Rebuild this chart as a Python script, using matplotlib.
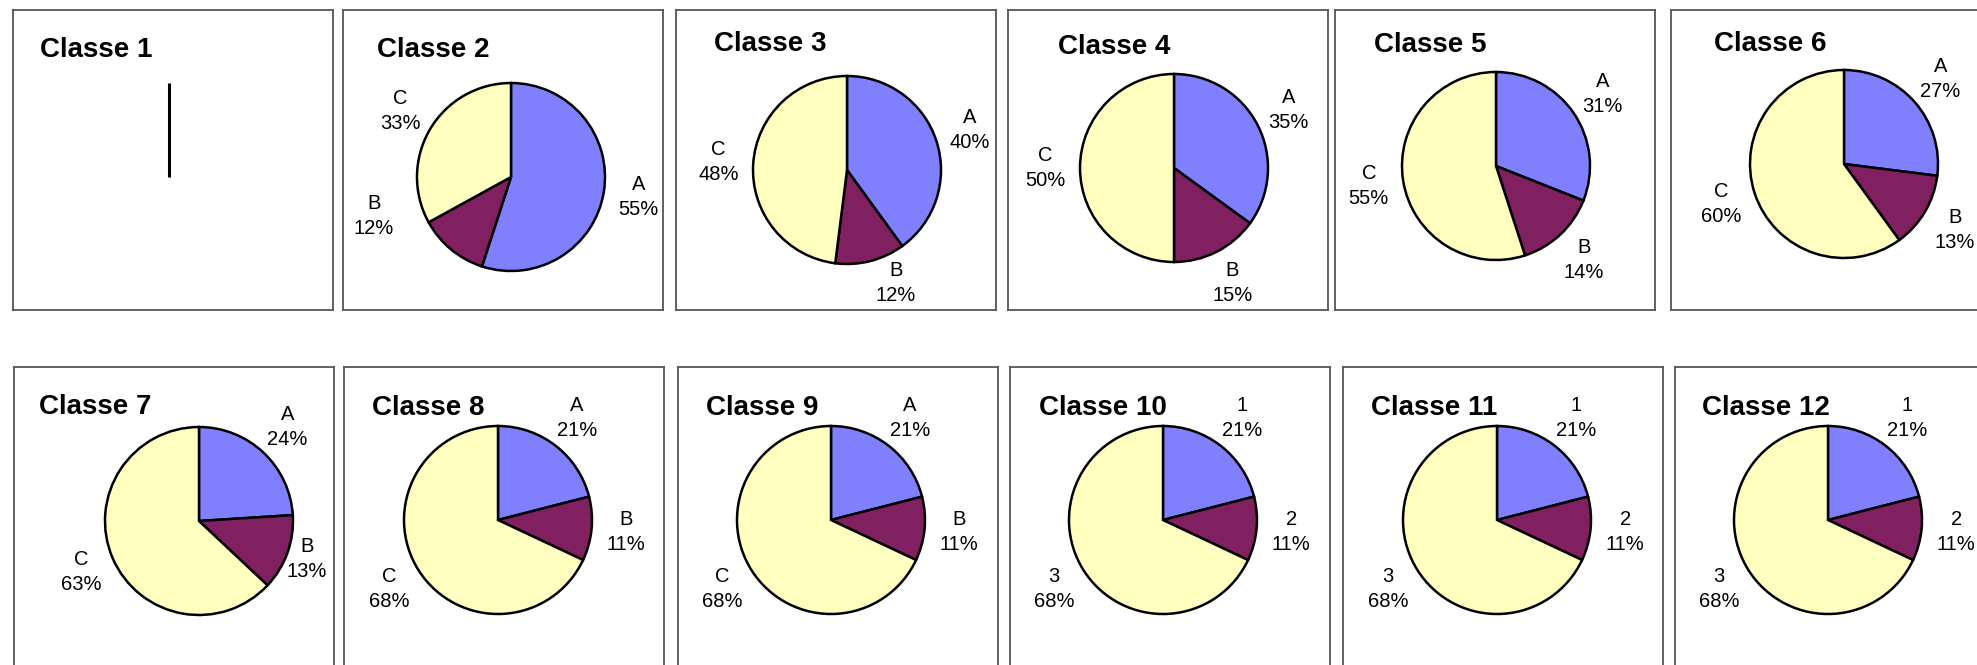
import numpy as np
import matplotlib
matplotlib.use("Agg")
import matplotlib.pyplot as plt

plt.rcParams['font.family'] = ['Liberation Sans', 'DejaVu Sans']

# ---------------- data ----------------
classes = ["Classe 1", "Classe 2", "Classe 3", "Classe 4", "Classe 5", "Classe 6",
           "Classe 7", "Classe 8", "Classe 9", "Classe 10", "Classe 11", "Classe 12"]
cat_letters = ["A", "B", "C"]
cat_numbers = ["1", "2", "3"]
values_A = [0, 55, 40, 35, 31, 27, 24, 21, 21, 21, 21, 21]
values_B = [0, 12, 12, 15, 14, 13, 13, 11, 11, 11, 11, 11]
values_C = [0, 33, 48, 50, 55, 60, 63, 68, 68, 68, 68, 68]

# ---------------- styles / layout ----------------
colors = ["#8080FF", "#802060", "#FFFFC0"]
W, H = 1977, 665
DPI = 100
box_w, box_h = 320, 300
# panel boxes (left, top) in pixels
box_left = [13, 343, 676, 1008, 1335, 1671, 14, 344, 678, 1010, 1343, 1675]
box_top = [10] * 6 + [367] * 6
# pie centers in pixels (from top-left)
pie_cx = [169, 511, 847, 1174, 1496, 1844, 199, 498, 831, 1163, 1497, 1828]
pie_cy = [177, 177, 170, 168, 166, 164, 521, 520, 520, 520, 520, 520]
radius = 94
title_x = [40, 377, 714, 1058, 1374, 1714, 39, 372, 706, 1039, 1371, 1702]
title_y = [50, 50, 44, 47, 45, 44, 407, 408, 408, 408, 408, 408]
label_dist = 1.37
# per-label placement overrides (panel index, slice index) -> (angle deg, distance)
label_override = {(1, 1): (196, 1.52), (2, 1): (-66.6, 1.31), (6, 1): (-19.4, 1.22)}

fig = plt.figure(figsize=(W / DPI, H / DPI), dpi=DPI)
fig.patch.set_facecolor("white")

for i, name in enumerate(classes):
    x0, y0 = box_left[i], box_top[i]
    ax = fig.add_axes([x0 / W, 1 - (y0 + box_h) / H, box_w / W, box_h / H])
    ax.set_xlim(x0, x0 + box_w)
    ax.set_ylim(H - (y0 + box_h), H - y0)
    ax.set_xticks([])
    ax.set_yticks([])
    for sp in ax.spines.values():
        sp.set_color("#555555")
        sp.set_linewidth(1.3)

    cx, cy = pie_cx[i], H - pie_cy[i]
    vals = [values_A[i], values_B[i], values_C[i]]
    cats = cat_numbers if i >= 9 else cat_letters

    if sum(vals) == 0:
        ax.plot([cx, cx], [cy, cy + radius], color="black", lw=2.2, solid_capstyle="butt")
    else:
        wedges, _ = ax.pie(vals, colors=colors, startangle=90, counterclock=False,
                           center=(cx, cy), radius=radius, frame=True,
                           wedgeprops=dict(edgecolor="black", linewidth=1.8))
        ax.set_xlim(x0, x0 + box_w)
        ax.set_ylim(H - (y0 + box_h), H - y0)
        ax.set_xticks([])
        ax.set_yticks([])
        for j, w in enumerate(wedges):
            ang = (w.theta1 + w.theta2) / 2.0
            d = label_dist
            if (i, j) in label_override:
                ang, d = label_override[(i, j)]
            a = np.deg2rad(ang)
            ax.text(cx + d * radius * np.cos(a), cy + d * radius * np.sin(a),
                    f"{cats[j]}\n{vals[j]}%", ha="center", va="center",
                    fontsize=14.5, linespacing=1.4, clip_on=False)

    ax.text(title_x[i], H - title_y[i], name, ha="left", va="center",
            fontsize=20, fontweight="bold")

fig.savefig("out.png", dpi=DPI, facecolor="white")
